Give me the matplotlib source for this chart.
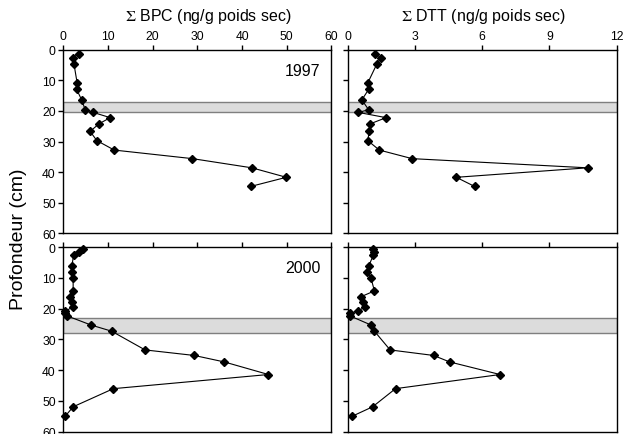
import numpy as np
import matplotlib
matplotlib.use("Agg")
import matplotlib.pyplot as plt

plt.rcParams['font.family'] = ['Liberation Sans', 'DejaVu Sans']
plt.rcParams['mathtext.fontset'] = 'stix'

# 1997 core: depth (cm) and concentrations (ng/g poids sec)
depth_1997 = [1.3, 2.6, 4.8, 10.9, 13.0, 16.4, 19.6, 20.5, 22.2, 24.2, 26.7,
              29.7, 32.8, 35.6, 38.6, 41.7, 44.7]
bpc_1997 = [3.4, 2.2, 2.4, 3.1, 3.0, 4.1, 4.9, 6.7, 10.5, 8.0, 6.0,
            7.5, 11.4, 28.9, 42.2, 49.9, 41.9]
dtt_1997 = [1.23, 1.5, 1.3, 0.9, 0.94, 0.64, 0.94, 0.49, 1.72, 1.02, 0.97,
            0.9, 1.42, 2.88, 10.7, 4.85, 5.67]

# 2000 core
depth_2000 = [0.5, 1.5, 2.6, 6.2, 8.1, 10.1, 14.2, 16.1, 17.8, 19.4, 20.8,
              21.5, 22.3, 25.3, 27.3, 33.4, 35.2, 37.3, 41.4, 46.0, 51.9, 55.0]
bpc_2000 = [4.4, 3.6, 2.3, 1.9, 1.9, 2.2, 2.2, 1.5, 1.9, 2.2, 0.4,
            0.3, 0.8, 6.2, 10.8, 18.3, 29.3, 36.0, 45.9, 11.2, 2.2, 0.4]
dtt_2000 = [1.12, 1.2, 1.15, 0.94, 0.88, 1.05, 1.2, 0.6, 0.67, 0.79, 0.45,
            0.1, 0.1, 1.05, 1.2, 1.9, 3.84, 4.55, 6.8, 2.14, 1.12, 0.2]

# shaded layers (depth range, cm)
band_1997 = (17.0, 20.2)
band_2000 = (23.0, 28.0)

years = ["1997", "2000"]
bpc_ticks = [0, 10, 20, 30, 40, 50, 60]
dtt_ticks = [0, 3, 6, 9, 12]
depth_ticks = [0, 10, 20, 30, 40, 50, 60]

fig = plt.figure(figsize=(6.25, 4.35), dpi=100)

# panel positions in figure fractions
lefts = [0.1013, 0.556]
widths = [0.429, 0.4307]
bottoms = [0.4614, 0.0053]
heights = [0.422, 0.424]

rows = [
    (depth_1997, bpc_1997, dtt_1997, band_1997),
    (depth_2000, bpc_2000, dtt_2000, band_2000),
]

for r, (depth, bpc, dtt, band) in enumerate(rows):
    for c, (vals, ticks) in enumerate([(bpc, bpc_ticks), (dtt, dtt_ticks)]):
        ax = fig.add_axes([lefts[c], bottoms[r], widths[c], heights[r]])
        ax.axhspan(band[0], band[1], facecolor="#dcdcdc", edgecolor="#7f7f7f",
                   linewidth=1.0, zorder=1)
        ax.plot(vals, depth, color="black", linewidth=0.8, marker="D",
                markersize=4.5, markerfacecolor="black", markeredgecolor="black",
                zorder=3, clip_on=False)
        ax.set_xlim(ticks[0], ticks[-1])
        ax.set_ylim(60, 0)
        ax.set_xticks(ticks)
        ax.set_yticks(depth_ticks)
        ax.xaxis.tick_top()
        ax.tick_params(axis="both", direction="out", length=3.5, width=1.0,
                       labelsize=8.7, pad=2)
        ax.tick_params(axis="y", right=False)
        if r == 1:
            ax.set_xticklabels([])
        if c == 1:
            ax.set_yticklabels([])
        for s in ax.spines.values():
            s.set_linewidth(1.0)
            s.set_color("black")
        if c == 0:
            ax.text(0.96, 0.93, years[r], transform=ax.transAxes,
                    ha="right", va="top", fontsize=11.5)

fig.text(0.333, 0.962, r"$\Sigma$ BPC (ng/g poids sec)", ha="center",
         va="center", fontsize=11.5)
fig.text(0.773, 0.962, r"$\Sigma$ DTT (ng/g poids sec)", ha="center",
         va="center", fontsize=11.5)
fig.text(0.03, 0.45, "Profondeur (cm)", rotation=90, ha="center",
         va="center", fontsize=14)

fig.savefig("out.png", dpi=100)
